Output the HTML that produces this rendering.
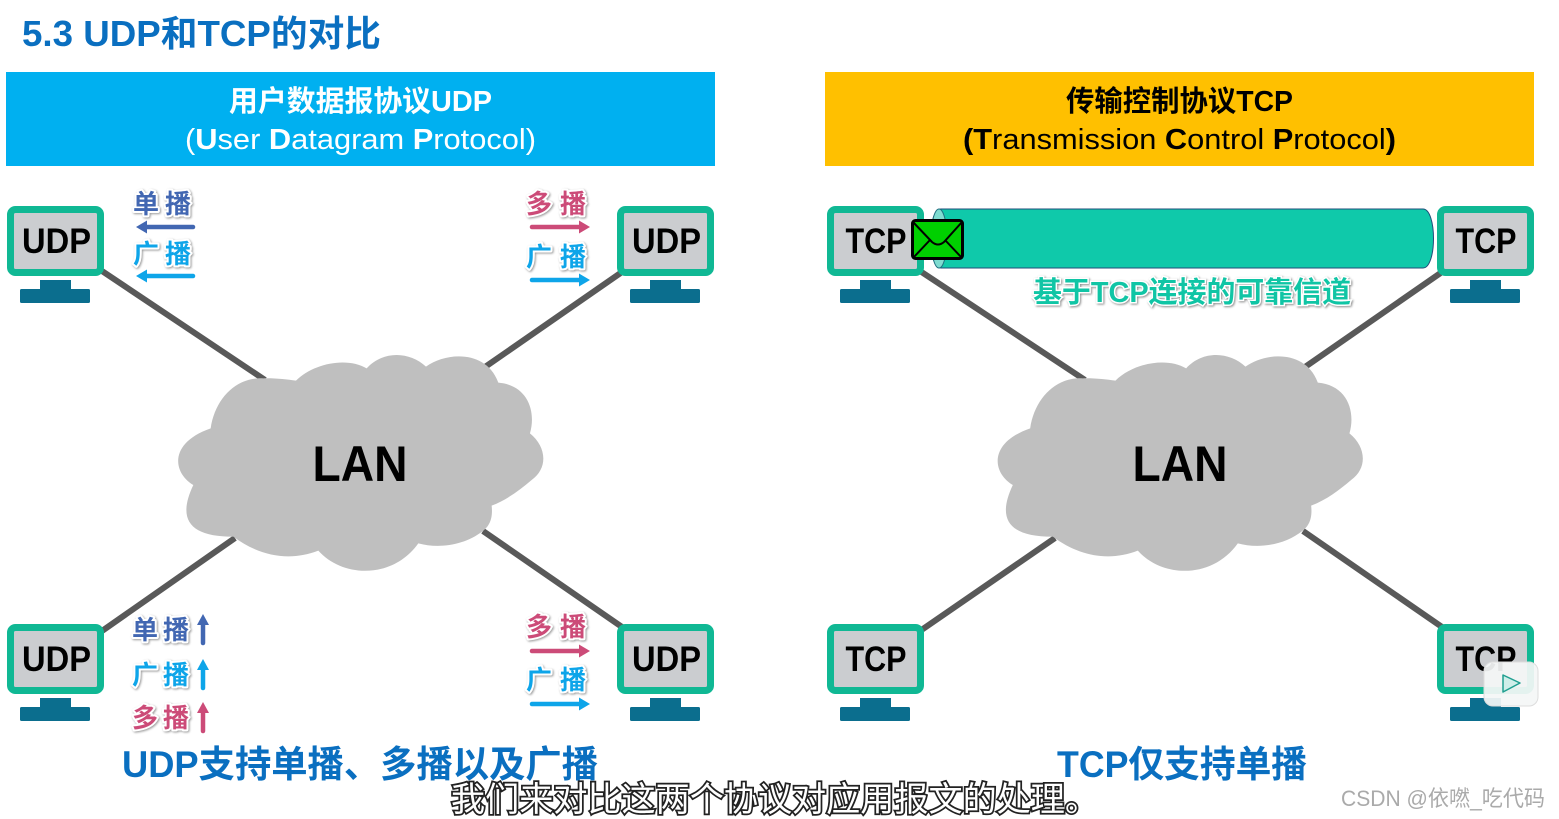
<!DOCTYPE html>
<html lang="zh">
<head>
<meta charset="utf-8">
<title>UDP和TCP的对比</title>
<style>
html,body{margin:0;padding:0;background:#fff;width:1559px;height:819px;overflow:hidden}
svg{display:block}
text{font-family:"Liberation Sans","Noto Sans CJK SC",sans-serif}
.b{font-weight:700}
.mon{font-size:35px;font-weight:700;fill:#000;text-anchor:middle}
.lan{font-size:50px;font-weight:700;fill:#000;text-anchor:middle}
.small{font-size:26px;font-weight:700;paint-order:stroke;stroke:#fff;stroke-width:4px;stroke-linejoin:round;filter:drop-shadow(1px 1px 1px rgba(0,0,0,.4))}
.blue{fill:#4267b2}.cyan{fill:#0ea5e9}.pink{fill:#cc4b78}
</style>
</head>
<body>
<svg width="1559" height="819" viewBox="0 0 1559 819" xmlns="http://www.w3.org/2000/svg">
<defs>
<g id="m">
<rect x="3.500" y="3.500" width="90" height="63" rx="5" fill="#cbcdd0" stroke="#10b894" stroke-width="7"/>
<rect x="33" y="74" width="31" height="11" fill="#0b6e8e"/>
<rect x="13" y="83" width="70" height="14" rx="1.500" fill="#0b6e8e"/>
</g>
<path id="c" d="M122 265C135 175 200 110 280 115C315 114 350 118 378 122C430 70 530 50 590 85C640 30 720 35 768 80C830 35 950 30 985 128C1070 135 1100 210 1080 280C1130 320 1135 385 1085 420C1050 450 1010 480 965 497C970 540 955 560 940 572C880 620 800 625 745 610C670 716 520 716 445 632C360 665 270 650 190 590C60 590 20 540 70 435C10 400 -7 310 122 265Z" fill="#bfbfbf"/>
</defs>

<text x="22" y="46" class="b" font-size="36" fill="#0a6fc0" textLength="359" lengthAdjust="spacingAndGlyphs">5.3 UDP和TCP的对比</text>

<rect x="6" y="72" width="709" height="94" fill="#00b0f0"/>
<rect x="825" y="72" width="709" height="94" fill="#ffc000"/>
<text x="229" y="111" class="b" font-size="29" fill="#fff" textLength="263" lengthAdjust="spacingAndGlyphs">用户数据报协议UDP</text>
<text x="185" y="149" font-size="29" fill="#fff" textLength="351" lengthAdjust="spacingAndGlyphs">(<tspan class="b">U</tspan>ser <tspan class="b">D</tspan>atagram <tspan class="b">P</tspan>rotocol)</text>
<text x="1066" y="111" class="b" font-size="29" fill="#000" textLength="227" lengthAdjust="spacingAndGlyphs">传输控制协议TCP</text>
<text x="963" y="149" font-size="29" fill="#000" textLength="433" lengthAdjust="spacingAndGlyphs"><tspan class="b">(T</tspan>ransmission <tspan class="b">C</tspan>ontrol <tspan class="b">P</tspan>rotocol<tspan class="b">)</tspan></text>

<g stroke="#595959" stroke-width="6" fill="none">
<path d="M102 271L265 380M622 272L485 367M235 538L102 631M483 531L622 627"/>
<path d="M920 271L1085 380M1442 272L1305 367M1055 538L920 631M1303 531L1442 627"/>
</g>

<use href="#c" transform="translate(170 340) scale(.3333)"/>
<use href="#c" transform="translate(989.500 340) scale(.3333)"/>
<text x="360" y="481" class="lan" textLength="95" lengthAdjust="spacingAndGlyphs">LAN</text>
<text x="1180" y="481" class="lan" textLength="95" lengthAdjust="spacingAndGlyphs">LAN</text>

<use href="#m" x="7" y="206"/><use href="#m" x="617" y="206"/>
<use href="#m" x="7" y="624"/><use href="#m" x="617" y="624"/>
<use href="#m" x="827" y="206"/><use href="#m" x="1437" y="206"/>
<use href="#m" x="827" y="624"/><use href="#m" x="1437" y="624"/>

<text x="56.500" y="253" class="mon" textLength="69" lengthAdjust="spacingAndGlyphs">UDP</text>
<text x="666.500" y="253" class="mon" textLength="69" lengthAdjust="spacingAndGlyphs">UDP</text>
<text x="56.500" y="671" class="mon" textLength="69" lengthAdjust="spacingAndGlyphs">UDP</text>
<text x="666.500" y="671" class="mon" textLength="69" lengthAdjust="spacingAndGlyphs">UDP</text>
<text x="876" y="253" class="mon" textLength="61" lengthAdjust="spacingAndGlyphs">TCP</text>
<text x="1486" y="253" class="mon" textLength="61" lengthAdjust="spacingAndGlyphs">TCP</text>
<text x="876" y="671" class="mon" textLength="61" lengthAdjust="spacingAndGlyphs">TCP</text>
<text x="1486" y="671" class="mon" textLength="61" lengthAdjust="spacingAndGlyphs">TCP</text>

<!-- tube -->
<path d="M941 209H1423C1437 209 1437 268 1423 268H941C927 268 927 209 941 209Z" fill="#0fc9aa" stroke="#1f4e79" stroke-width="1"/>
<ellipse cx="939" cy="238.500" rx="8" ry="29.500" fill="#7fdcd0" stroke="#1f6f80" stroke-width="1"/>
<rect x="912.500" y="220.500" width="50" height="38" rx="3" fill="#00d000" stroke="#000" stroke-width="3"/>
<path d="M913 222L932 242Q938 247 944 242L962 222M913 258L930 240M962 258L945 240" fill="none" stroke="#000" stroke-width="2"/>
<text x="1033" y="302" class="b" font-size="29" fill="#10c5a5" stroke="#fff" stroke-width="3" paint-order="stroke" style="filter:drop-shadow(1px 1px 1px rgba(0,0,0,.45))" textLength="318" lengthAdjust="spacingAndGlyphs">基于TCP连接的可靠信道</text>

<!-- small labels -->
<text x="133" y="213" class="small blue" textLength="58">单播</text>
<text x="133" y="263" class="small cyan" textLength="58">广播</text>
<text x="526" y="213" class="small pink" textLength="60">多播</text>
<text x="526" y="266" class="small cyan" textLength="60">广播</text>
<text x="132" y="639" class="small blue" font-size="25" textLength="57">单播</text>
<text x="132" y="684" class="small cyan" textLength="57">广播</text>
<text x="132" y="727" class="small pink" textLength="57">多播</text>
<text x="526" y="636" class="small pink" textLength="60">多播</text>
<text x="526" y="689" class="small cyan" textLength="60">广播</text>

<!-- arrows -->
<g stroke-width="4.500" stroke-linecap="round">
<path d="M193 227H142" stroke="#4267b2"/><path d="M136 227l11-6.500v13z" fill="#4267b2"/>
<path d="M193 276H142" stroke="#0ea5e9"/><path d="M136 276l11-6.500v13z" fill="#0ea5e9"/>
<path d="M532 227H583" stroke="#cc4b78"/><path d="M590 227l-11-6.500v13z" fill="#cc4b78"/>
<path d="M532 280H583" stroke="#0ea5e9"/><path d="M590 280l-11-6.500v13z" fill="#0ea5e9"/>
<path d="M532 651H583" stroke="#cc4b78"/><path d="M590 651l-11-6.500v13z" fill="#cc4b78"/>
<path d="M532 704H583" stroke="#0ea5e9"/><path d="M590 704l-11-6.500v13z" fill="#0ea5e9"/>
<path d="M203 643V620" stroke="#4267b2"/><path d="M203 614l-6 11h12z" fill="#4267b2"/>
<path d="M203 688V665" stroke="#0ea5e9"/><path d="M203 659l-6 11h12z" fill="#0ea5e9"/>
<path d="M203 731V708" stroke="#cc4b78"/><path d="M203 702l-6 11h12z" fill="#cc4b78"/>
</g>

<text x="122" y="777" class="b" font-size="37" fill="#0a6fc0" textLength="476" lengthAdjust="spacingAndGlyphs">UDP支持单播、多播以及广播</text>
<text x="1057" y="777" class="b" font-size="37" fill="#0a6fc0" textLength="250" lengthAdjust="spacingAndGlyphs">TCP仅支持单播</text>

<!-- play badge -->
<rect x="1484" y="662" width="54" height="44" rx="9" fill="#f4f6f6" fill-opacity=".93" stroke="#ddd" stroke-width="1"/>
<path d="M1503 675L1520 683L1503 692Z" fill="#cfeee9" stroke="#1f9f90" stroke-width="1.500" stroke-linejoin="round"/>

<text x="451" y="811" font-size="34" fill="#fff" stroke="#222" stroke-width="3.500" paint-order="stroke" textLength="648" lengthAdjust="spacingAndGlyphs">我们来对比这两个协议对应用报文的处理。</text>
<text x="1341" y="806" font-size="22" fill="#aaa" textLength="204" lengthAdjust="spacingAndGlyphs">CSDN @依嘫_吃代码</text>
</svg>
</body>
</html>
